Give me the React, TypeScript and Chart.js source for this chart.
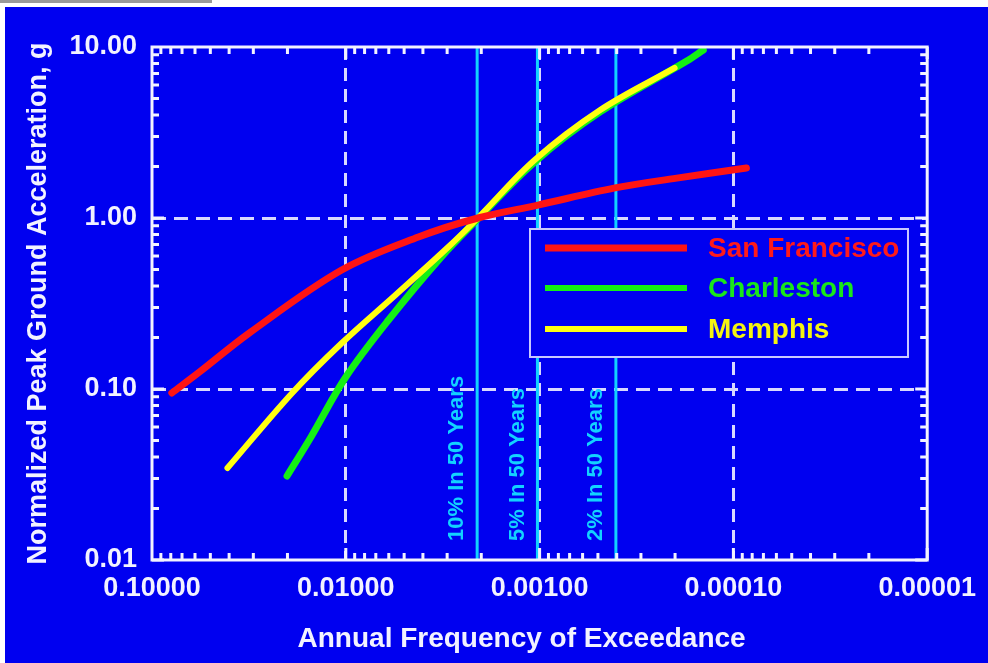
import React, { useEffect, useRef } from "react";
import { Chart, registerables } from "chart.js";

Chart.register(...registerables);

// ---------- data ----------
const xTickValues = [0.1, 0.01, 0.001, 0.0001, 0.00001];
const yTickValues = [0.01, 0.1, 1, 10];

const seriesNames = ["San Francisco", "Charleston", "Memphis"];
const seriesColors = ["#ff1414", "#14f014", "#ffff10"];
const legendTextColors = ["#ff1a1a", "#1ae61a", "#f5f510"];

const sanFranciscoFreq = [0.079, 0.0567, 0.0314, 0.0105, 0.00422, 0.00208, 0.00102, 0.000408, 0.000196, 0.0000857];
const sanFranciscoPga = [0.0948, 0.126, 0.213, 0.496, 0.774, 1.0, 1.19, 1.5, 1.71, 1.96];

const charlestonFreq = [0.0201, 0.01512, 0.01, 0.00602, 0.00322, 0.00208, 0.001061, 0.000487, 0.000174, 0.000143];
const charlestonPga = [0.031, 0.0524, 0.1175, 0.2532, 0.591, 0.99, 2.125, 4.17, 8.28, 9.6];

const memphisFreq = [0.0408, 0.01891, 0.01048, 0.00554, 0.00296, 0.00208, 0.001061, 0.000487, 0.000201];
const memphisPga = [0.0345, 0.0948, 0.1858, 0.355, 0.677, 1.0, 2.184, 4.28, 7.54];

const hazardRates = [0.0021, 0.001026, 0.000404];
const hazardLabels = ["10% In 50 Years", "5% In 50 Years", "2% In 50 Years"];

const xTitle = "Annual Frequency of Exceedance";
const yTitle = "Normalized Peak Ground Acceleration, g";

// ---------- style ----------
const FONT = '"Liberation Sans", Arial, Helvetica, sans-serif';
const BG = "#0000f0";
const WHITE = "#f2f2ff";
const GRID = "#d8d8ff";
const CYAN = "#12d2ff";

const toPoints = (xs: number[], ys: number[]) => xs.map((x, i) => ({ x, y: ys[i] }));
const isDecade = (v: number) => Math.abs(Math.log10(v) - Math.round(Math.log10(v))) < 1e-6;

const customPlugin = {
  id: "customDecor",
  beforeDraw(chart: any) {
    const { ctx, width, height } = chart;
    ctx.save();
    ctx.fillStyle = BG;
    ctx.fillRect(0, 0, width, height);
    ctx.restore();
  },
  beforeDatasetsDraw(chart: any) {
    const { ctx, chartArea: ca, scales } = chart;
    const x = scales.x;
    ctx.save();
    hazardRates.forEach((r, i) => {
      const px = x.getPixelForValue(r);
      ctx.strokeStyle = CYAN;
      ctx.lineWidth = 3;
      ctx.setLineDash([]);
      ctx.beginPath();
      ctx.moveTo(px, ca.top);
      ctx.lineTo(px, ca.bottom);
      ctx.stroke();
      ctx.save();
      ctx.translate(px - 20, ca.bottom - 19);
      ctx.rotate(-Math.PI / 2);
      ctx.fillStyle = CYAN;
      ctx.font = `bold 22px ${FONT}`;
      ctx.textAlign = "left";
      ctx.textBaseline = "middle";
      ctx.fillText(hazardLabels[i], 0, 0);
      ctx.restore();
    });
    ctx.restore();
  },
  afterDatasetsDraw(chart: any) {
    const { ctx, chartArea: ca, scales, height } = chart;
    const x = scales.x;
    const y = scales.y;
    ctx.save();
    ctx.setLineDash([]);
    // frame
    ctx.strokeStyle = WHITE;
    ctx.lineWidth = 3;
    ctx.strokeRect(ca.left, ca.top, ca.right - ca.left, ca.bottom - ca.top);
    // inward ticks
    ctx.lineWidth = 3;
    for (let e = -5; e < -1; e++) {
      for (let m = 1; m <= 9; m++) {
        const v = m * Math.pow(10, e);
        const px = x.getPixelForValue(v);
        const len = m === 1 ? 12 : 7;
        ctx.beginPath();
        ctx.moveTo(px, ca.bottom);
        ctx.lineTo(px, ca.bottom - len);
        ctx.moveTo(px, ca.top);
        ctx.lineTo(px, ca.top + len);
        ctx.stroke();
      }
    }
    for (let e = -2; e < 1; e++) {
      for (let m = 1; m <= 9; m++) {
        const v = m * Math.pow(10, e);
        const py = y.getPixelForValue(v);
        const len = m === 1 ? 12 : 7;
        ctx.beginPath();
        ctx.moveTo(ca.left, py);
        ctx.lineTo(ca.left + len, py);
        ctx.moveTo(ca.right, py);
        ctx.lineTo(ca.right - len, py);
        ctx.stroke();
      }
    }
    // legend
    const bx = ca.left + 378;
    const by = ca.top + 182;
    const bw = 378;
    const bh = 128;
    ctx.fillStyle = BG;
    ctx.fillRect(bx, by, bw, bh);
    ctx.strokeStyle = "#c8c8ff";
    ctx.lineWidth = 2;
    ctx.strokeRect(bx, by, bw, bh);
    const rows = [19, 59, 100];
    seriesNames.forEach((name, i) => {
      const ly = by + rows[i];
      ctx.strokeStyle = seriesColors[i];
      ctx.lineWidth = i === 0 ? 7 : 6;
      ctx.beginPath();
      ctx.moveTo(bx + 15, ly);
      ctx.lineTo(bx + 157, ly);
      ctx.stroke();
      ctx.fillStyle = legendTextColors[i];
      ctx.font = `bold 28px ${FONT}`;
      ctx.textAlign = "left";
      ctx.textBaseline = "middle";
      ctx.fillText(name, bx + 178, ly + 1);
    });
    // x title
    ctx.fillStyle = WHITE;
    ctx.font = `bold 28px ${FONT}`;
    ctx.textAlign = "center";
    ctx.textBaseline = "middle";
    ctx.fillText(xTitle, (ca.left + ca.right) / 2 - 18, height - 24);
    ctx.restore();
  },
};

export default function App() {
  const canvasRef = useRef<HTMLCanvasElement | null>(null);

  useEffect(() => {
    if (!canvasRef.current) return;
    const lineDs = (label: string, data: any[], color: string, width: number, order: number) => ({
      label,
      data,
      borderColor: color,
      backgroundColor: color,
      borderWidth: width,
      pointRadius: 0,
      fill: false,
      tension: 0.35,
      borderCapStyle: "round" as const,
      borderJoinStyle: "round" as const,
      order,
    });
    const chart = new Chart(canvasRef.current, {
      type: "line",
      data: {
        datasets: [
          lineDs(seriesNames[0], toPoints(sanFranciscoFreq, sanFranciscoPga), seriesColors[0], 7, 0),
          lineDs(seriesNames[1], toPoints(charlestonFreq, charlestonPga), seriesColors[1], 7, 2),
          lineDs(seriesNames[2], toPoints(memphisFreq, memphisPga), seriesColors[2], 6, 1),
        ],
      },
      options: {
        animation: false,
        responsive: false,
        devicePixelRatio: 1,
        layout: { padding: { top: 40, right: 57, bottom: 0, left: 0 } },
        plugins: { legend: { display: false }, tooltip: { enabled: false } },
        scales: {
          x: {
            type: "logarithmic",
            min: 0.00001,
            max: 0.1,
            reverse: true,
            afterBuildTicks: (axis: any) => {
              axis.ticks = xTickValues.map((v) => ({ value: v }));
            },
            afterFit: (axis: any) => {
              axis.height = 103;
            },
            ticks: {
              autoSkip: false,
              maxRotation: 0,
              padding: 12,
              color: WHITE,
              font: { family: FONT, size: 27, weight: "bold" },
              callback: (v: any) => Number(v).toFixed(5),
            },
            grid: {
              drawTicks: false,
              lineWidth: 3,
              color: (ctx: any) => {
                const v = ctx.tick ? ctx.tick.value : 0;
                return isDecade(v) && v < 0.09 && v > 0.000011 ? GRID : "rgba(0,0,0,0)";
              },
            },
            border: { display: false, dash: [13, 8] },
            title: { display: false, text: xTitle },
          },
          y: {
            type: "logarithmic",
            min: 0.01,
            max: 10,
            afterBuildTicks: (axis: any) => {
              axis.ticks = yTickValues.map((v) => ({ value: v }));
            },
            afterFit: (axis: any) => {
              axis.width = 147;
            },
            ticks: {
              autoSkip: false,
              padding: 15,
              color: WHITE,
              font: { family: FONT, size: 27, weight: "bold" },
              callback: (v: any) => Number(v).toFixed(2),
            },
            grid: {
              drawTicks: false,
              lineWidth: 3,
              color: (ctx: any) => {
                const v = ctx.tick ? ctx.tick.value : 0;
                return isDecade(v) && v > 0.011 && v < 9 ? GRID : "rgba(0,0,0,0)";
              },
            },
            border: { display: false, dash: [14, 8] },
            title: {
              display: true,
              text: yTitle,
              color: WHITE,
              font: { family: FONT, size: 27, weight: "bold" },
              padding: { top: 17, bottom: 0 },
            },
          },
        },
      },
      plugins: [customPlugin],
    } as any);
    return () => chart.destroy();
  }, []);

  return (
    <div style={{ position: "fixed", left: 0, top: 0, width: 988, height: 663, background: "#ffffff", overflow: "hidden" }}>
      <div style={{ position: "absolute", left: 0, top: 0, width: 212, height: 3, background: "#9a9a9a" }} />
      <canvas
        ref={canvasRef}
        width={983}
        height={656}
        style={{ position: "absolute", left: 5, top: 7, width: 983, height: 656, display: "block" }}
      />
    </div>
  );
}
